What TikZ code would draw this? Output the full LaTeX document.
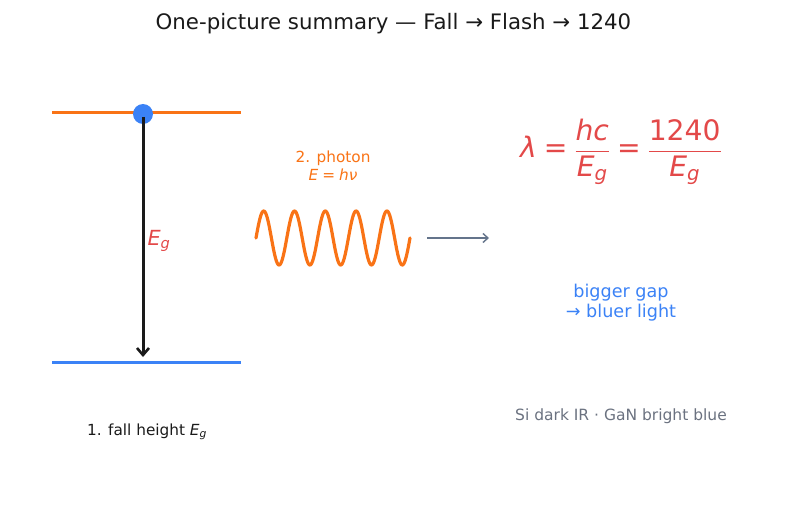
\documentclass[tikz,border=0pt]{standalone}
\usepackage{amsmath}
\usepackage{fontspec}
\setmainfont{DejaVu Sans}
\usetikzlibrary{arrows.meta}

\definecolor{titleink}{HTML}{1A1A1A}
\definecolor{upperlvl}{HTML}{F97316}
\definecolor{lowerlvl}{HTML}{3B82F6}
\definecolor{eqred}{HTML}{E34949}
\definecolor{arrowgray}{HTML}{64748B}
\definecolor{notegray}{HTML}{6B7280}

% italic upright-font math letters
\newcommand{\mi}[1]{\text{\itshape #1}}
\newcommand{\px}[1]{\fontsize{#1}{#1}\selectfont}
% fraction with a heavier bar
\newcommand{\bfrac}[2]{\genfrac{}{}{1.3pt}{0}{#1}{#2}}

\begin{document}
\begin{tikzpicture}[x=1pt,y=-1pt,
  every node/.style={inner sep=0pt, outer sep=0pt},
  level/.style={line width=3pt},
  fall/.style={line width=3pt, titleink, -{Straight Barb[length=7pt,width=12pt,line width=2.6pt]}},
  flow/.style={line width=1.5pt, arrowgray, -{Straight Barb[length=5pt,width=9pt,line width=1.4pt]}},
  wave/.style={line width=3.2pt, upperlvl, line cap=round, line join=round}]
\useasboundingbox (0,0) rectangle (787,508);

% title
\node[text=titleink, font=\px{21.3}] (title) at (393.5,24) {One-picture summary — Fall → Flash → 1240};

% energy levels
\coordinate (upL) at (52,113);
\coordinate (upR) at (241,113);
\coordinate (loL) at (52,362);
\coordinate (loR) at (241,362);
\draw[level, upperlvl] (upL) -- (upR);
\draw[level, lowerlvl] (loL) -- (loR);

% electron and its fall
\node[circle, fill=lowerlvl, minimum size=20pt] (electron) at (143,114) {};
\coordinate (fallstart) at (143,117);
\coordinate (land) at (143,357);
\draw[fall] (fallstart) -- (land);
\node[text=eqred, font=\px{20.8}] (gaplabel) at (159,241) {$\mi{E}_{\mi{g}}$};

% emitted photon
\node[text=upperlvl, font=\fontsize{15.3}{18}\selectfont, align=center] (photon) at (333,166)
  {2. photon\\[0pt]$\mi{E}\mathrel{\text{=}}\mi{hν}$};
\draw[wave, domain=0:154, samples=240, smooth]
  plot ({256+\x}, {238-27*sin(\x/30.8*360)});

% connector to the formula
\coordinate (flowA) at (427,238);
\coordinate (flowB) at (489,238);
\draw[flow] (flowA) -- (flowB);

% wavelength relation
\node[text=eqred, font=\px{28.2}] (formula) at (621,152)
  {$\mi{λ}\mathrel{\text{=}}\bfrac{\mi{hc}}{\mi{E}_{\mi{g}}}\mathrel{\text{=}}\bfrac{\text{1240}}{\mi{E}_{\mi{g}}}$};

% notes
\node[text=lowerlvl, font=\fontsize{17.6}{20}\selectfont, align=center] (trend) at (621,303)
  {bigger gap\\→ bluer light};
\node[text=notegray, font=\px{15.5}] (examples) at (621,416) {Si dark IR · GaN bright blue};
\node[text=titleink, font=\px{15.3}] (step1) at (147,432) {1. fall height $\mi{E}_{\mi{g}}$};
\end{tikzpicture}
\end{document}
